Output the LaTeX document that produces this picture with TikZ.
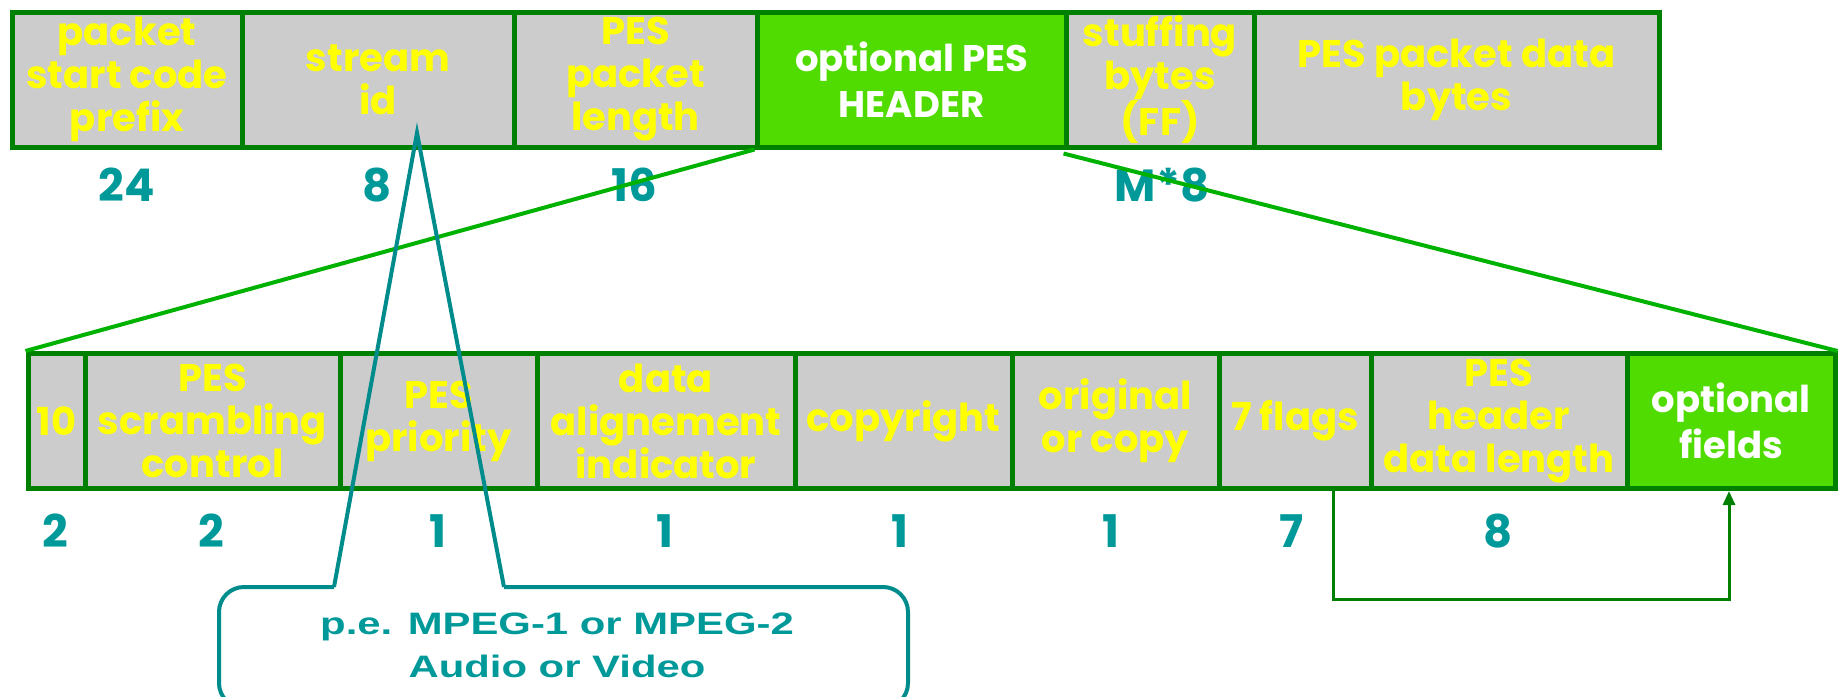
\documentclass[tikz,border=0pt]{standalone}
\usepackage{fontspec}
\newfontfamily\gothic{Poppins}
\newfontfamily\arialf{Liberation Sans}
\usetikzlibrary{arrows.meta,calc}
\definecolor{dkgreen}{RGB}{0,128,0}
\definecolor{ltgreen}{RGB}{80,220,0}
\definecolor{lngreen}{RGB}{0,178,0}
\definecolor{boxgray}{RGB}{204,204,204}
\definecolor{tealc}{RGB}{0,153,153}
\definecolor{tealb}{RGB}{0,140,140}
\definecolor{yel}{RGB}{255,255,0}
\begin{document}
\begin{tikzpicture}[x=1pt,y=-1pt,
  field/.style={draw=dkgreen, line width=5pt, fill=boxgray, text=yel,
    font=\gothic\bfseries\fontsize{38.5}{43}\selectfont, align=center,
    inner sep=0pt, minimum height=135pt},
  optfield/.style={field, fill=ltgreen, text=white,
    font=\gothic\bfseries\fontsize{37}{46}\selectfont},
  bits/.style={text=tealc, font=\gothic\bfseries\fontsize{45}{50}\selectfont, inner sep=0pt},
  expand/.style={draw=lngreen, line width=4pt},
  callout/.style={draw=tealb, line width=4pt},
  link/.style={draw=dkgreen, line width=3pt},
  calltext/.style={text=tealc, font=\arialf\bfseries\fontsize{31}{43}\selectfont, align=center, inner sep=0pt, xscale=1.35}
]
\useasboundingbox (0,0) rectangle (1841,696);

% top row
\node[field, minimum width=230pt] (t1) at (127,79.5) {packet\\start code\\prefix};
\node[field, minimum width=272pt] (t2) at (378,79.5) {stream\\id};
\node[field, minimum width=243pt] (t3) at (635.5,79.5) {PES\\packet\\length};
\node[optfield, minimum width=309pt] (t4) at (911.5,79.5) {optional PES\\HEADER};
\node[field, minimum width=188pt] (t5) at (1160,79.5) {stuffing\\bytes\\(FF)};
\node[field, minimum width=405pt] (t6) at (1456.5,79.5) {PES packet data\\bytes};

\node[bits] (n1) at (127,185) {24};
\node[bits] (n2) at (377,185) {8};
\node[bits] (n3) at (634,185) {16};
\node[bits] (n4) at (1162,185) {M*8};

% bottom row
\node[field, minimum width=57pt] (b1) at (56.5,421) {10};
\node[field, minimum width=255pt] (b2) at (212.5,421) {PES\\scrambling\\control};
\node[field, minimum width=197pt] (b3) at (438.5,421) {PES\\priority};
\node[field, minimum width=258pt] (b4) at (666,421) {data\\alignement\\indicator};
\node[field, minimum width=217pt] (b5) at (903.5,421) {copyright};
\node[field, minimum width=207pt] (b6) at (1115.5,421) {original\\or copy};
\node[field, minimum width=152pt] (b7) at (1295,421) {7 flags};
\node[field, minimum width=256pt] (b8) at (1499,421) {PES\\header\\data length};
\node[optfield, minimum width=208pt] (b9) at (1731,421) {optional\\fields};

\node[bits] at (55,531) {2};
\node[bits] at (211,531) {2};
\node[bits] at (438,531) {1};
\node[bits] at (665,531) {1};
\node[bits] at (900,531) {1};
\node[bits] at (1111,531) {1};
\node[bits] at (1292,531) {7};
\node[bits] at (1498,531) {8};

% expansion lines
\draw[expand] (t4.south west) -- (b1.north west);
\draw[expand] ([yshift=-4pt]t5.south west) -- (b9.north east);

% flags arrow
\coordinate (fx) at (1333,0);
\coordinate (ox) at (1729,0);
\coordinate (low) at (0,599);
\draw[link, -{Triangle[length=14pt,width=12pt]}] (b7.south -| fx) -- (fx |- low) -- (ox |- low) -- (b9.south -| ox);

% callout
\coordinate (apex) at (417,133);
\coordinate (pl) at (334,587);
\coordinate (pr) at (504,587);
\begin{scope}
\clip (0,0) rectangle (1841,696);
\draw[callout, rounded corners=25pt] (pl) -- (219,587) -- (219,708) -- (908,708) -- (908,587) -- (pr);
\draw[callout, line join=miter] (pl) -- (apex) -- (pr);
\end{scope}
\node[calltext] (ct) at (557,645) {p.e. MPEG-1 or MPEG-2\\Audio or Video};
\end{tikzpicture}
\end{document}
